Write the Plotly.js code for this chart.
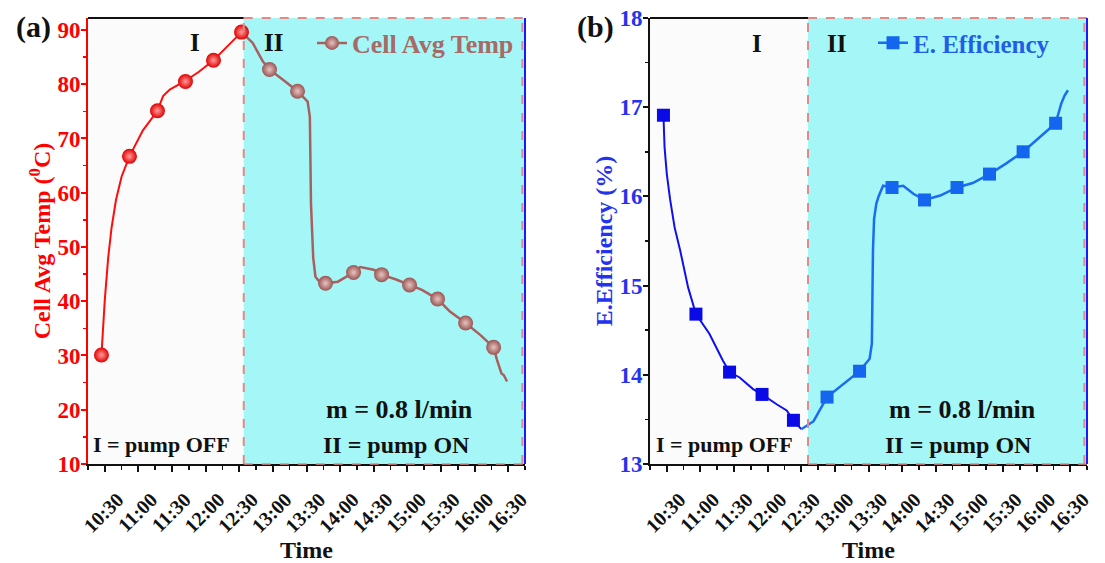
<!DOCTYPE html>
<html>
<head>
<meta charset="utf-8">
<script src="https://cdn.plot.ly/plotly-3.0.1.min.js"></script>
<style>html,body{margin:0;padding:0;background:#fff;}#chart{width:1105px;height:563px;}</style>
</head>
<body>
<div id="chart"></div>
<script>
// ---------- data ----------
const day = '2024-01-01 ';
const tickLabels = ['10:30','11:00','11:30','12:00','12:30','13:00','13:30','14:00','14:30','15:00','15:30','16:00','16:30'];
const phaseSwitch = ['12:34', '12:36'];   // pump switched ON (panel a, panel b)

// (a) Cell average temperature
const tempMarkerTimes  = ['10:27','10:52','11:17','11:42','12:07','12:32','12:57','13:22','13:47','14:12','14:37','15:02','15:27','15:52','16:17'];
const tempMarkerValues = [30.1, 66.7, 75.1, 80.5, 84.4, 89.6, 82.7, 78.7, 43.3, 45.3, 44.9, 43.0, 40.4, 36.0, 31.5];
const tempOffCount = 6;   // markers recorded with pump OFF
const tempLineOffTimes  = ['10:27','10:28','10:29','10:30','10:33','10:36','10:40','10:45','10:52','11:04','11:17','11:22','11:28','11:41','11:54','12:07','12:32'];
const tempLineOffValues = [30.1, 34.0, 37.5, 40.3, 48.0, 53.5, 58.7, 63.0, 66.7, 71.5, 75.1, 77.8, 79.0, 80.5, 82.3, 84.4, 89.6];
const tempLineOnTimes  = ['12:32','12:42','12:51','12:57','13:09','13:22','13:31','13:33','13:34','13:36','13:38','13:42','13:47','13:58','14:12','14:18','14:30','14:37','14:50','15:02','15:13','15:27','15:38','15:52','16:05','16:17','16:20','16:24','16:26','16:29'];
const tempLineOnValues = [89.6, 87.6, 84.2, 82.7, 80.8, 78.7, 76.8, 74.0, 58.0, 48.0, 44.5, 43.5, 43.3, 43.6, 45.3, 46.3, 45.8, 44.9, 44.0, 43.0, 42.1, 40.4, 38.1, 36.0, 33.8, 31.5, 29.2, 26.7, 26.4, 25.2];

// (b) Electrical efficiency
const effMarkerTimes  = ['10:27','10:56','11:26','11:55','12:23','12:53','13:22','13:51','14:20','14:49','15:18','15:48','16:17'];
const effMarkerValues = [16.91, 14.68, 14.03, 13.78, 13.49, 13.75, 14.04, 16.10, 15.96, 16.10, 16.25, 16.50, 16.82];
const effOffCount = 5;
const effLineOffTimes  = ['10:27','10:28','10:30','10:33','10:37','10:42','10:49','10:56','11:08','11:20','11:26','11:35','11:47','11:55','12:08','12:17','12:23','12:30'];
const effLineOffValues = [16.91, 16.55, 16.25, 15.96, 15.65, 15.39, 14.98, 14.68, 14.46, 14.16, 14.03, 13.97, 13.84, 13.78, 13.67, 13.60, 13.49, 13.39];
const effLineOnTimes  = ['12:30','12:41','12:53','13:06','13:22','13:31','13:33','13:34','13:35','13:37','13:39','13:43','13:51','14:01','14:10','14:20','14:34','14:49','15:03','15:18','15:33','15:48','16:03','16:17','16:22','16:25','16:28'];
const effLineOnValues = [13.39, 13.48, 13.75, 13.88, 14.04, 14.18, 14.35, 15.40, 15.75, 15.92, 16.00, 16.12, 16.10, 16.12, 16.03, 15.96, 16.01, 16.10, 16.15, 16.25, 16.37, 16.50, 16.67, 16.82, 17.04, 17.13, 17.19];

// ---------- build ----------
const T = arr => arr.map(t => day + t);
const FONT = 'Liberation Serif, Times New Roman, serif';
const RED = '#ff0d0d', BROWN = '#a8605e', DBLUE = '#1010ee', LBLUE = '#1a6cf2';
const CYAN = '#a5f6f6', PINK = '#e08a8a';

const traces = [
  {x: T(tempLineOffTimes), y: tempLineOffValues, mode: 'lines', line: {color: RED, width: 2}, showlegend: false, xaxis: 'x', yaxis: 'y', hoverinfo: 'skip'},
  {x: T(tempLineOnTimes), y: tempLineOnValues, mode: 'lines', line: {color: BROWN, width: 2.5}, showlegend: false, xaxis: 'x', yaxis: 'y', hoverinfo: 'skip'},
  {x: T(tempMarkerTimes.slice(0, tempOffCount)), y: tempMarkerValues.slice(0, tempOffCount), mode: 'markers',
   marker: {symbol: 'circle', size: 15, color: '#e00000', gradient: {type: 'radial', color: '#ff9c9c'}, line: {width: 0}},
   showlegend: false, xaxis: 'x', yaxis: 'y'},
  {x: T(tempMarkerTimes.slice(tempOffCount)), y: tempMarkerValues.slice(tempOffCount), mode: 'markers',
   marker: {symbol: 'circle', size: 15, color: '#9a5452', gradient: {type: 'radial', color: '#e6c4c2'}, line: {width: 0}},
   showlegend: false, xaxis: 'x', yaxis: 'y'},
  {x: [null], y: [null], mode: 'lines+markers', name: 'Cell Avg Temp', legend: 'legend',
   line: {color: BROWN, width: 2.5}, marker: {symbol: 'circle', size: 14, color: '#9a5452', gradient: {type: 'radial', color: '#e6c4c2'}},
   xaxis: 'x', yaxis: 'y'},

  {x: T(effLineOffTimes), y: effLineOffValues, mode: 'lines', line: {color: DBLUE, width: 2}, showlegend: false, xaxis: 'x2', yaxis: 'y2', hoverinfo: 'skip'},
  {x: T(effLineOnTimes), y: effLineOnValues, mode: 'lines', line: {color: LBLUE, width: 2.5}, showlegend: false, xaxis: 'x2', yaxis: 'y2', hoverinfo: 'skip'},
  {x: T(effMarkerTimes.slice(0, effOffCount)), y: effMarkerValues.slice(0, effOffCount), mode: 'markers',
   marker: {symbol: 'square', size: 13, color: '#0a0ae6', line: {width: 0}}, showlegend: false, xaxis: 'x2', yaxis: 'y2'},
  {x: T(effMarkerTimes.slice(effOffCount)), y: effMarkerValues.slice(effOffCount), mode: 'markers',
   marker: {symbol: 'square', size: 13, color: '#1566ee', line: {width: 0}}, showlegend: false, xaxis: 'x2', yaxis: 'y2'},
  {x: [null], y: [null], mode: 'lines+markers', name: 'E. Efficiency', legend: 'legend2',
   line: {color: LBLUE, width: 2.5}, marker: {symbol: 'square', size: 13, color: '#1566ee'}, xaxis: 'x2', yaxis: 'y2'}
];

const xStart = day + '10:15', xEnd = day + '16:45';
function xAxis(domain, anchor) {
  return {
    domain: domain, anchor: anchor, type: 'date', range: [xStart, xEnd],
    tickmode: 'array', tickvals: T(tickLabels), ticktext: tickLabels,
    tickangle: -45, ticks: 'outside', ticklen: 6, tickwidth: 2, tickcolor: '#111',
    ticklabelshift: 13, ticklabelstandoff: 8,
    minor: {dtick: 900000, tick0: day + '10:15', ticks: 'outside', ticklen: 4, tickwidth: 1.5, tickcolor: '#111'},
    showline: true, linecolor: '#111', linewidth: 2, showgrid: false, zeroline: false,
    tickfont: {family: FONT, size: 20, color: '#111', weight: 'bold'},
    title: {text: 'Time', font: {family: FONT, size: 24, color: '#111', weight: 'bold'}, standoff: 6}
  };
}
function yAxis(anchor, range, dtick, lineColor, labelColor, title) {
  return {
    anchor: anchor, domain: [0, 1], range: range, dtick: dtick, tick0: range[0],
    ticks: 'outside', ticklen: 5, tickwidth: 2, tickcolor: lineColor,
    ticklabelstandoff: -4,
    minor: {dtick: dtick / 2, ticks: 'outside', ticklen: 3, tickwidth: 1.5, tickcolor: lineColor},
    showline: true, linecolor: lineColor, linewidth: 2, showgrid: false, zeroline: false,
    tickfont: {family: FONT, size: 23, color: labelColor, weight: 'bold'},
    title: {text: title, font: {family: FONT, size: 24, color: labelColor, weight: 'bold'}, standoff: 0}
  };
}

function panelShapes(xr, yr, sw) {
  const xd = xr + ' domain', yd = yr + ' domain';
  return [
    {type: 'rect', xref: xr, yref: yd, x0: day + sw, x1: xEnd, y0: 0, y1: 1, fillcolor: CYAN, line: {width: 0}, layer: 'below'},
    {type: 'line', xref: xr, yref: yd, x0: xStart, x1: day + sw, y0: 1, y1: 1, line: {color: '#111', width: 2}},
    {type: 'line', xref: xr, yref: yd, x0: day + sw, x1: xEnd, y0: 1, y1: 1, line: {color: PINK, width: 2, dash: 'dash'}},
    {type: 'line', xref: xr, yref: yd, x0: day + sw, x1: xEnd, y0: 0, y1: 0, line: {color: PINK, width: 1.5, dash: 'dash'}},
    {type: 'line', xref: xr, yref: yd, x0: day + sw, x1: day + sw, y0: 0, y1: 1, line: {color: PINK, width: 2, dash: 'dash'}},
    {type: 'line', xref: xd, yref: yd, x0: 0.994, x1: 0.994, y0: 0, y1: 1, line: {color: PINK, width: 2, dash: 'dash'}},
    {type: 'line', xref: xd, yref: yd, x0: 1, x1: 1, y0: 0, y1: 1, line: {color: '#1a1aff', width: 2}}
  ];
}

const W = 1105, TOP = 18, BOT = 464, PH = BOT - TOP;
const px = v => v / W, py = v => (BOT - v) / PH;
function txt(text, x, y, size, color, xanchor) {
  return {text: text, xref: 'paper', yref: 'paper', x: px(x), y: py(y), xanchor: xanchor || 'center', yanchor: 'middle',
          showarrow: false, font: {family: FONT, size: size, color: color || '#111', weight: 'bold'}};
}

const layout = {
  width: 1105, height: 563,
  margin: {l: 0, r: 0, t: TOP, b: 563 - BOT, pad: 0},
  paper_bgcolor: '#ffffff', plot_bgcolor: '#fbfbfb',
  font: {family: FONT},
  xaxis: xAxis([88 / W, 525 / W], 'y'),
  yaxis: yAxis('x', [10, 92.2], 10, '#ff0000', '#ff0000', 'Cell Avg Temp (<sup>0</sup>C)'),
  xaxis2: xAxis([650 / W, 1087 / W], 'y2'),
  yaxis2: yAxis('x2', [13, 18], 1, '#111', '#2433ee', 'E.Efficiency (%)'),
  legend: {x: px(312), y: py(43), xanchor: 'left', yanchor: 'middle', bgcolor: 'rgba(0,0,0,0)', borderwidth: 0,
           font: {family: FONT, size: 26, color: '#a66a67', weight: 'bold'}},
  legend2: {x: px(873), y: py(43), xanchor: 'left', yanchor: 'middle', bgcolor: 'rgba(0,0,0,0)', borderwidth: 0,
           font: {family: FONT, size: 25, color: '#1f5fe6', weight: 'bold'}},
  shapes: panelShapes('x', 'y', phaseSwitch[0]).concat(panelShapes('x2', 'y2', phaseSwitch[1])),
  annotations: [
    txt('(a)', 33, 27, 30),
    txt('(b)', 595, 27, 30),
    txt('I', 195, 42, 25), txt('II', 273, 42, 25),
    txt('I', 757, 43, 25), txt('II', 836, 43, 25),
    txt('m = 0.8 l/min', 399, 409, 26), txt('II = pump ON', 396, 445, 24), txt('I = pump OFF', 161, 444, 22),
    txt('m = 0.8 l/min', 962, 409, 26), txt('II = pump ON', 958, 445, 24), txt('I = pump OFF', 724, 444, 22)
  ]
};

Plotly.newPlot('chart', traces, layout, {displayModeBar: false, staticPlot: true});
</script>
</body>
</html>
